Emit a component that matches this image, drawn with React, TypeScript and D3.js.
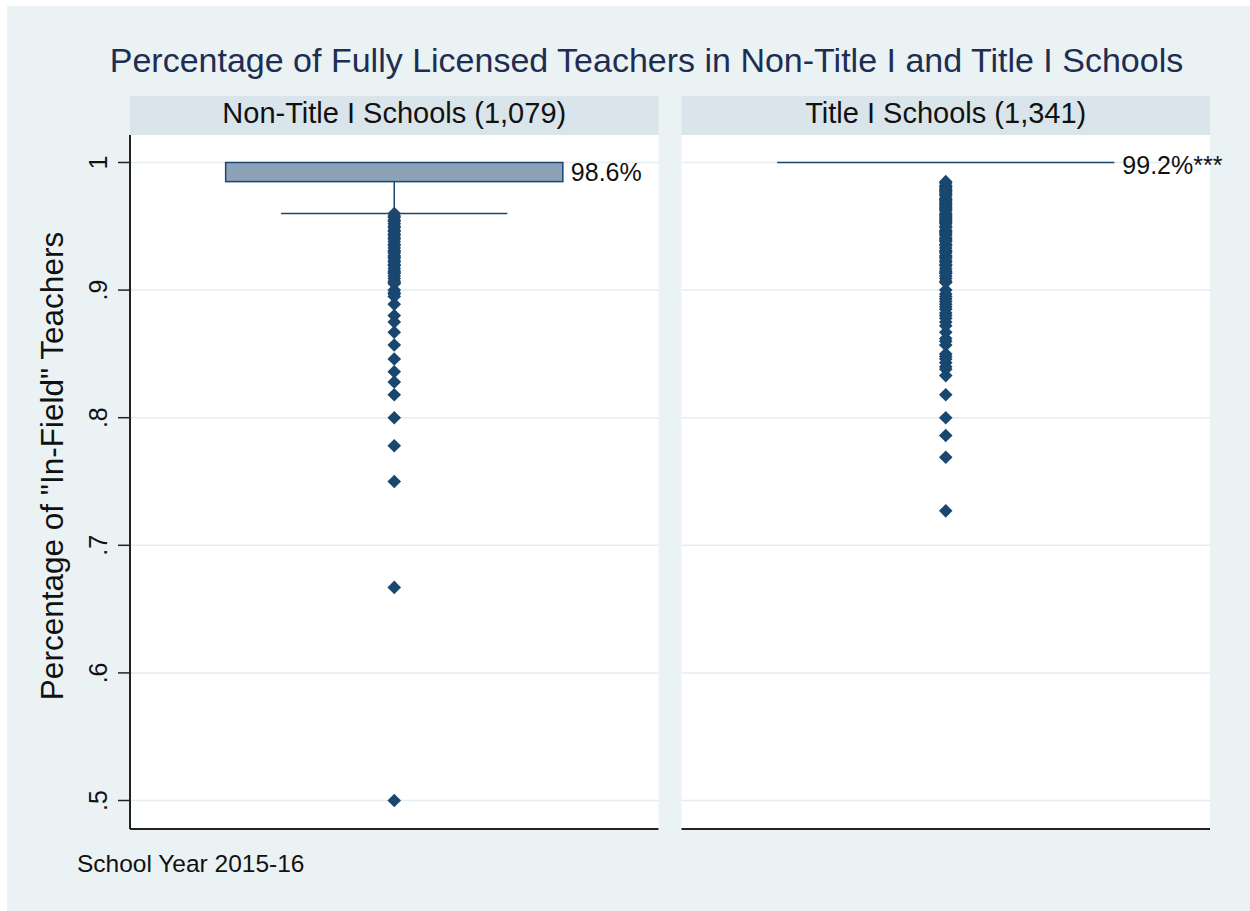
import React from "react";
import * as d3 from "d3";

const chartTitle = "Percentage of Fully Licensed Teachers in Non-Title I and Title I Schools";
const yAxisTitle = 'Percentage of "In-Field" Teachers';
const noteText = "School Year 2015-16";
const panelLabels = ["Non-Title I Schools (1,079)", "Title I Schools (1,341)"];
const summaryLabels = ["98.6%", "99.2%***"];
const boxLower = [0.985, 1.0];
const boxUpper = [1.0, 1.0];
const whiskerLower = [0.96, 1.0];
const yTicks = [0.5, 0.6, 0.7, 0.8, 0.9, 1.0];
const yTickLabels = [".5", ".6", ".7", ".8", ".9", "1"];

const nonTitleOutliers = [
  0.96, 0.958, 0.957, 0.955, 0.954, 0.952, 0.95, 0.949, 0.947, 0.946, 0.944, 0.943,
  0.941, 0.94, 0.938, 0.936, 0.935, 0.933, 0.931, 0.93, 0.929, 0.927, 0.926, 0.925,
  0.923, 0.922, 0.92, 0.919, 0.917, 0.915, 0.914, 0.913, 0.911, 0.909, 0.907, 0.906,
  0.905, 0.9, 0.898, 0.897, 0.895, 0.889, 0.88, 0.875, 0.867, 0.857, 0.846, 0.836,
  0.828, 0.818, 0.8, 0.778, 0.75, 0.667, 0.5,
];

const titleOutliers = [
  0.985, 0.984, 0.982, 0.981, 0.98, 0.979, 0.978, 0.977, 0.976, 0.975, 0.974, 0.972,
  0.971, 0.97, 0.969, 0.968, 0.967, 0.966, 0.965, 0.964, 0.963, 0.962, 0.96, 0.959,
  0.958, 0.957, 0.956, 0.955, 0.954, 0.953, 0.952, 0.95, 0.949, 0.947, 0.946, 0.945,
  0.944, 0.943, 0.941, 0.94, 0.939, 0.938, 0.936, 0.935, 0.933, 0.931, 0.93, 0.929,
  0.927, 0.926, 0.925, 0.923, 0.922, 0.92, 0.919, 0.917, 0.915, 0.914, 0.913, 0.911,
  0.909, 0.907, 0.906, 0.9, 0.897, 0.895, 0.893, 0.891, 0.889, 0.887, 0.885, 0.882,
  0.88, 0.878, 0.875, 0.872, 0.867, 0.862, 0.86, 0.857, 0.85, 0.848, 0.846, 0.843,
  0.84, 0.838, 0.833, 0.818, 0.8, 0.786, 0.769, 0.727,
];

const outlierSets = [nonTitleOutliers, titleOutliers];

const W = 1250;
const H = 911;
const FONT = "'Liberation Sans', Arial, sans-serif";
const NAVY = "#1a476f";
const BG = "#eaf2f3";
const STRIP = "#d9e5ea";
const GRID = "#e4edef";

export default function App() {
  const plotTop = 135;
  const plotBottom = 829;
  const stripTop = 96;

  const x = d3.scaleBand<number>().domain([0, 1]).range([130, 1210]).paddingInner(0.0417).paddingOuter(0);
  const y = d3.scaleLinear().domain([0.5, 1]).range([800.5, 162.5]);
  const bw = x.bandwidth();
  const diamond = d3.symbol().type(d3.symbolDiamond2).size(118)();

  return (
    <svg width={W} height={H} style={{ position: "absolute", left: 0, top: 0 }} fontFamily={FONT}>
      <rect x={0} y={0} width={W} height={H} fill="#ffffff" />
      <rect x={7} y={6} width={W - 7} height={H - 6} fill={BG} />
      <text x={646.5} y={72} textAnchor="middle" fontSize={34} fill="#1e2d52">
        {chartTitle}
      </text>

      {[0, 1].map((p) => {
        const x0 = x(p)!;
        const cx = x0 + bw / 2;
        const boxW = bw * 0.638;
        const capW = bw * 0.428;
        return (
          <g key={p}>
            <rect x={x0} y={stripTop} width={bw} height={plotTop - stripTop} fill={STRIP} />
            <text x={cx} y={123} textAnchor="middle" fontSize={29} fill="#111">
              {panelLabels[p]}
            </text>
            <rect x={x0} y={plotTop} width={bw} height={plotBottom - plotTop} fill="#ffffff" />
            {yTicks.map((t) => (
              <line key={t} x1={x0} x2={x0 + bw} y1={y(t)} y2={y(t)} stroke={GRID} strokeWidth={1.5} />
            ))}
            <line x1={x0} x2={x0 + bw} y1={plotBottom} y2={plotBottom} stroke="#222" strokeWidth={2} />
            {whiskerLower[p] < boxLower[p] && (
              <g>
                <line x1={cx} x2={cx} y1={y(boxLower[p])} y2={y(whiskerLower[p])} stroke={NAVY} strokeWidth={1.5} />
                <line x1={cx - capW / 2} x2={cx + capW / 2} y1={y(whiskerLower[p])} y2={y(whiskerLower[p])} stroke={NAVY} strokeWidth={1.5} />
              </g>
            )}
            {boxUpper[p] > boxLower[p] ? (
              <rect
                x={cx - boxW / 2}
                y={y(boxUpper[p])}
                width={boxW}
                height={y(boxLower[p]) - y(boxUpper[p])}
                fill="#8ca2b8"
                stroke={NAVY}
                strokeWidth={1.5}
              />
            ) : (
              <line x1={cx - boxW / 2} x2={cx + boxW / 2} y1={y(boxUpper[p])} y2={y(boxUpper[p])} stroke={NAVY} strokeWidth={1.5} />
            )}
            {outlierSets[p].map((v, i) => (
              <path key={i} d={diamond!} transform={`translate(${cx},${y(v)})`} fill={NAVY} />
            ))}
            <text x={cx + boxW / 2 + 8} y={p === 0 ? 181 : 174} fontSize={25} fill="#111">
              {summaryLabels[p]}
            </text>
          </g>
        );
      })}

      <line x1={130} x2={130} y1={plotTop} y2={plotBottom} stroke="#222" strokeWidth={2} />
      {yTicks.map((t, i) => (
        <g key={t}>
          <line x1={118} x2={130} y1={y(t)} y2={y(t)} stroke="#222" strokeWidth={1.5} />
          <text transform={`translate(107,${y(t)}) rotate(-90)`} textAnchor="middle" fontSize={25} fill="#111">
            {yTickLabels[i]}
          </text>
        </g>
      ))}
      <text transform={`translate(63,466) rotate(-90)`} textAnchor="middle" fontSize={31.5} fill="#111">
        {yAxisTitle}
      </text>
      <text x={77} y={872} fontSize={24.5} fill="#111">
        {noteText}
      </text>
    </svg>
  );
}
